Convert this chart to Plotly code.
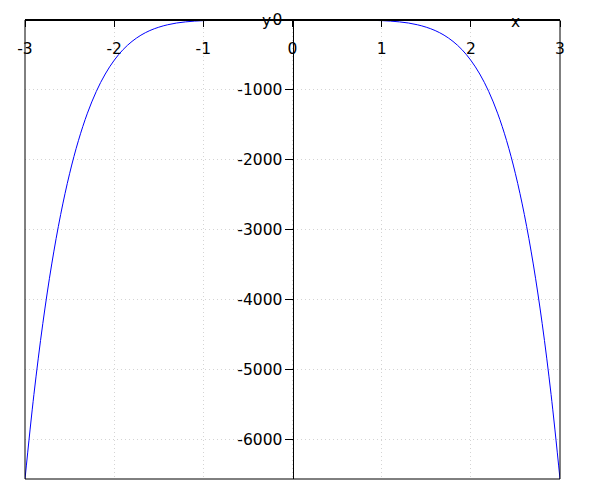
import plotly.graph_objects as go

# curve values
x_vals = [-3.0, -2.9, -2.8, -2.7, -2.6, -2.5, -2.4, -2.3, -2.2, -2.1,
          -2.0, -1.9, -1.8, -1.7, -1.6, -1.5, -1.4, -1.3, -1.2, -1.1,
          -1.0, -0.9, -0.8, -0.7, -0.6, -0.5, -0.4, -0.3, -0.2, -0.1,
          0.0, 0.1, 0.2, 0.3, 0.4, 0.5, 0.6, 0.7, 0.8, 0.9,
          1.0, 1.1, 1.2, 1.3, 1.4, 1.5, 1.6, 1.7, 1.8, 1.9,
          2.0, 2.1, 2.2, 2.3, 2.4, 2.5, 2.6, 2.7, 2.8, 2.9, 3.0]
y_vals = [-6561, -5353, -4337, -3487, -2780, -2197, -1720, -1332, -1020, -772,
          -576, -423, -306, -217, -151, -103, -68, -43, -27, -16,
          -9, -5, -2, -1, 0, 0, 0, 0, 0, 0,
          0, 0, 0, 0, 0, 0, 0, -1, -2, -5,
          -9, -16, -27, -43, -68, -103, -151, -217, -306, -423,
          -576, -772, -1020, -1332, -1720, -2197, -2780, -3487, -4337, -5353, -6561]

x_ticks = [-3, -2, -1, 0, 1, 2, 3]
x_ticktext = ["-3", "-2", "-1", "0", "1", "2", "3"]
y_ticks = [-6000, -5000, -4000, -3000, -2000, -1000, 0]
y_ticktext = ["-6000", "-5000", "-4000", "-3000", "-2000", "-1000", "0"]

fig = go.Figure()
fig.add_trace(go.Scatter(x=x_vals, y=y_vals, mode="lines",
                         line=dict(color="#0000ff", width=1, shape="spline")))

# page body adds 8px, so margins are 8px smaller on top/left
fig.update_layout(
    width=600, height=500,
    margin=dict(l=17, r=48, t=12, b=29),
    plot_bgcolor="white", paper_bgcolor="white",
    showlegend=False,
    font=dict(family="DejaVu Sans", size=15.5, color="black"),
)

fig.update_xaxes(range=[-3, 3], anchor="free", position=1, side="bottom",
                 automargin=False,
                 showline=True, linecolor="black", linewidth=2,
                 ticks="outside", ticklen=6, tickcolor="black",
                 tickvals=x_ticks, ticktext=x_ticktext, ticklabelstandoff=8,
                 showgrid=True, gridcolor="#d4d4d4", griddash="1px,3px", gridwidth=1,
                 zeroline=False)
fig.update_yaxes(range=[-6561, 0], anchor="free", position=0.5, side="left",
                 automargin=False,
                 showline=True, linecolor="black", linewidth=1,
                 ticks="outside", ticklen=8, tickcolor="black",
                 tickvals=y_ticks, ticktext=y_ticktext, ticklabelstandoff=-1,
                 showgrid=True, gridcolor="#d4d4d4", griddash="1px,3px", gridwidth=1,
                 zeroline=False)

# frame around the plot
fig.add_shape(type="rect", xref="x domain", yref="y domain", x0=0, x1=1, y0=0, y1=1,
              line=dict(color="black", width=1))

fig.add_annotation(x=2.5, y=0, xref="x", yref="y", text="x", showarrow=False,
                   yanchor="middle", yshift=-2)
fig.add_annotation(x=0, y=0, xref="x", yref="y", text="y", showarrow=False,
                   xanchor="right", xshift=-20, yshift=-1)

fig.write_html("out.html")
